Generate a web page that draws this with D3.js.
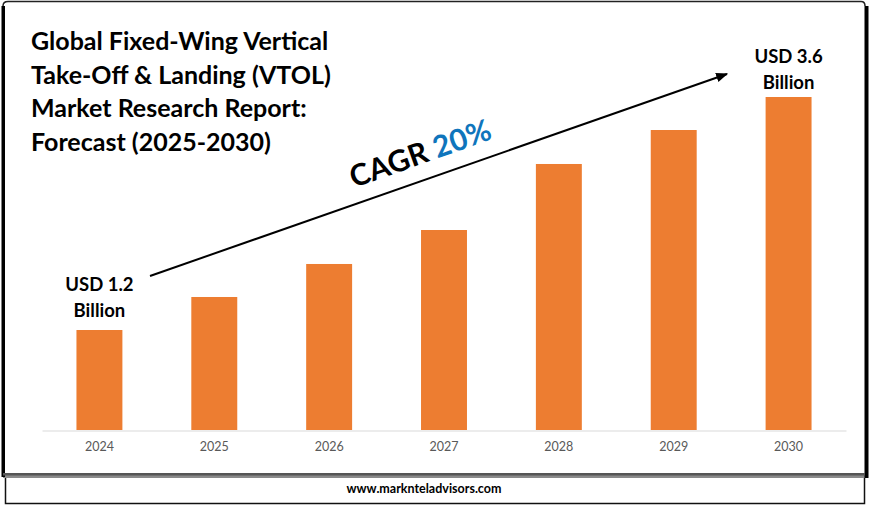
<!DOCTYPE html>
<html>
<head>
<meta charset="utf-8">
<script src="https://cdn.jsdelivr.net/npm/d3@7"></script>
<style>
  html, body { margin: 0; padding: 0; background: #fff; }
  svg { display: block; }
  text { font-family: Lato, "Open Sans", sans-serif; }
</style>
</head>
<body>
<svg id="chart" width="870" height="506"></svg>
<script>
const years = ["2024", "2025", "2026", "2027", "2028", "2029", "2030"];
const marketSize = [1.2, 1.54, 1.88, 2.23, 2.91, 3.26, 3.6];
const titleLines = ["Global Fixed-Wing Vertical", "Take-Off & Landing (VTOL)", "Market Research Report:", "Forecast (2025-2030)"];
const firstLabel = ["USD 1.2", "Billion"];
const lastLabel = ["USD 3.6", "Billion"];

const svg = d3.select("#chart");

const x = d3.scaleBand().domain(years).range([42, 846]).paddingInner(0.6).paddingOuter(0.3);
const y = d3.scaleLinear().domain([0.17, 3.6]).range([430, 97]);

// frame
svg.append("rect").attr("x", 5.5).attr("y", 470).attr("width", 859).attr("height", 33.5)
    .attr("fill", "#fff").attr("stroke", "#111").attr("stroke-width", 1.5);
svg.append("rect").attr("x", 3).attr("y", 474).attr("width", 862).attr("height", 4).attr("fill", "#8a8a8a");
svg.append("rect").attr("x", 3).attr("y", 1).attr("width", 863).attr("height", 474)
    .attr("fill", "#fff").attr("stroke", "none");
svg.append("path").attr("d", "M3 477V6Q3 1.5 8 1.5H861Q865 1.5 865 6")
    .attr("fill", "none").attr("stroke", "#222").attr("stroke-width", 1.5);
svg.append("rect").attr("x", 1.5).attr("y", 6).attr("width", 3.5).attr("height", 471).attr("fill", "#000");
svg.append("rect").attr("x", 864.5).attr("y", 6).attr("width", 4).attr("height", 472).attr("fill", "#000");
svg.append("rect").attr("x", 3).attr("y", 473).attr("width", 862).attr("height", 2.5).attr("fill", "#555");

// bars
svg.append("g").selectAll("rect").data(marketSize).join("rect")
    .attr("x", (d, i) => x(years[i]))
    .attr("y", d => y(d))
    .attr("width", x.bandwidth())
    .attr("height", d => y.range()[0] - y(d))
    .attr("fill", "#ed7d31");

// x axis
const axis = svg.append("g").attr("transform", "translate(0,430.5)")
    .call(d3.axisBottom(x).tickSize(0).tickPadding(12));
axis.select(".domain").attr("stroke", "#d9d9d9");
axis.selectAll("text").attr("font-size", 12.5).attr("fill", "#595959")
    .style("font-family", "Lato, sans-serif");

// title
svg.append("g").selectAll("text").data(titleLines).join("text")
    .attr("x", 31).attr("y", (d, i) => 50 + i * 33.7)
    .attr("font-size", 25).attr("font-weight", 700).attr("fill", "#000")
    .text(d => d);

// end labels
function endLabel(lines, year, top) {
    svg.append("g").selectAll("text").data(lines).join("text")
        .attr("x", x(year) + x.bandwidth() / 2)
        .attr("y", (d, i) => top + i * 25.5)
        .attr("text-anchor", "middle")
        .attr("font-size", 18.5).attr("font-weight", 700).attr("fill", "#000")
        .text(d => d);
}
endLabel(firstLabel, "2024", 291);
endLabel(lastLabel, "2030", 63);

// cagr arrow
svg.append("defs").append("marker").attr("id", "arrow")
    .attr("viewBox", "0 0 10 10").attr("refX", 9).attr("refY", 5)
    .attr("markerWidth", 6).attr("markerHeight", 6).attr("orient", "auto")
    .append("path").attr("d", "M0 1L10 5L0 9Z").attr("fill", "#000");
svg.append("line").attr("x1", 150).attr("y1", 276).attr("x2", 727).attr("y2", 74)
    .attr("stroke", "#000").attr("stroke-width", 2).attr("marker-end", "url(#arrow)");

const cagr = svg.append("text").attr("transform", "translate(354,188) rotate(-19.5)")
    .attr("font-size", 30).attr("font-weight", 700);
cagr.append("tspan").attr("fill", "#000").text("CAGR ");
cagr.append("tspan").attr("fill", "#0f75bc").text("20%");

// footer
svg.append("text").attr("x", 424).attr("y", 493).attr("text-anchor", "middle")
    .attr("font-size", 12.5).attr("font-weight", 700).attr("fill", "#000")
    .text("www.marknteladvisors.com");
</script>
</body>
</html>
